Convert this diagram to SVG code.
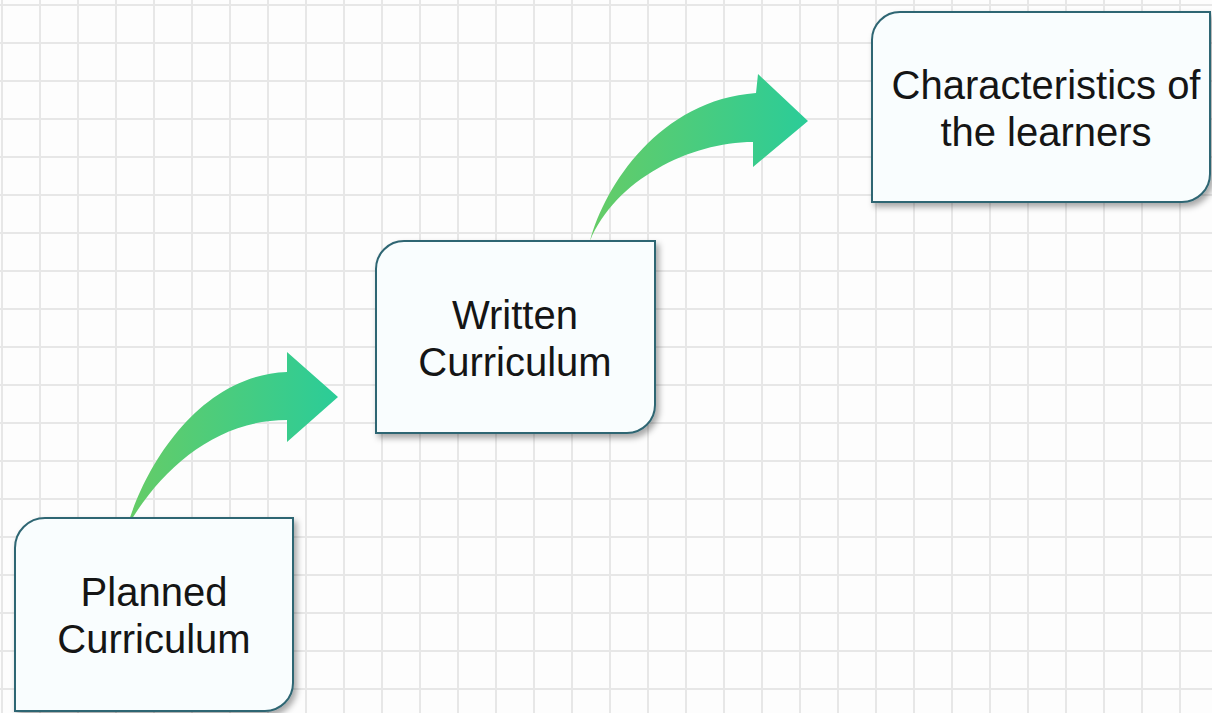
<svg xmlns="http://www.w3.org/2000/svg" width="1212" height="713" viewBox="0 0 1212 713">
  <style>
    .box { fill: #f9fdfe; stroke: #2f6673; stroke-width: 2; filter: url(#shadow); }
    .label { font-family: "Liberation Sans", Arial, sans-serif; font-size: 40px; fill: #151515; text-anchor: middle; }
    .arrow { fill: url(#green); }
  </style>
  <defs>
    <pattern id="grid" patternUnits="userSpaceOnUse" x="-17" y="-14" width="38" height="38">
      <line x1="19" y1="0" x2="19" y2="38" stroke="#e7e7e7" stroke-width="2"/>
      <line x1="0" y1="19" x2="38" y2="19" stroke="#e7e7e7" stroke-width="2"/>
    </pattern>
    <linearGradient id="green" x1="0" y1="0" x2="1" y2="0">
      <stop offset="0" stop-color="#66cc66"/>
      <stop offset="1" stop-color="#2bcc98"/>
    </linearGradient>
    <filter id="shadow" x="-10%" y="-10%" width="130%" height="130%">
      <feDropShadow dx="3" dy="4" stdDeviation="3" flood-color="#000" flood-opacity="0.35"/>
    </filter>
  </defs>
  <rect width="1212" height="713" fill="#fdfdfd"/>
  <rect width="1212" height="713" fill="url(#grid)"/>

  <g id="connectors">
    <path class="arrow" d="M127,527 C145,465 200,375 287,372 L287,352 L338,397 L287,442 L287,420 C215,420 160,470 127,527 Z"/>
    <path class="arrow" d="M590,241 C605,185 660,100 756,93 L758,74 L808,121 L753,167 L753,142 C690,142 615,180 590,241 Z"/>
  </g>

  <g id="planned">
    <path class="box" d="M15,548 A30,30 0 0 1 45,518 L293,518 L293,683 A28,28 0 0 1 265,711 L15,711 Z"/>
    <text class="label" x="154" y="606">Planned</text>
    <text class="label" x="154" y="653">Curriculum</text>
  </g>

  <g id="written">
    <path class="box" d="M376,269 A28,28 0 0 1 404,241 L655,241 L655,405 A28,28 0 0 1 627,433 L376,433 Z"/>
    <text class="label" x="515" y="329">Written</text>
    <text class="label" x="515" y="376">Curriculum</text>
  </g>

  <g id="characteristics">
    <path class="box" d="M872,40 A28,28 0 0 1 900,12 L1210,12 L1210,174 A28,28 0 0 1 1182,202 L872,202 Z"/>
    <text class="label" x="1046" y="99">Characteristics of</text>
    <text class="label" x="1046" y="146">the learners</text>
  </g>
</svg>
